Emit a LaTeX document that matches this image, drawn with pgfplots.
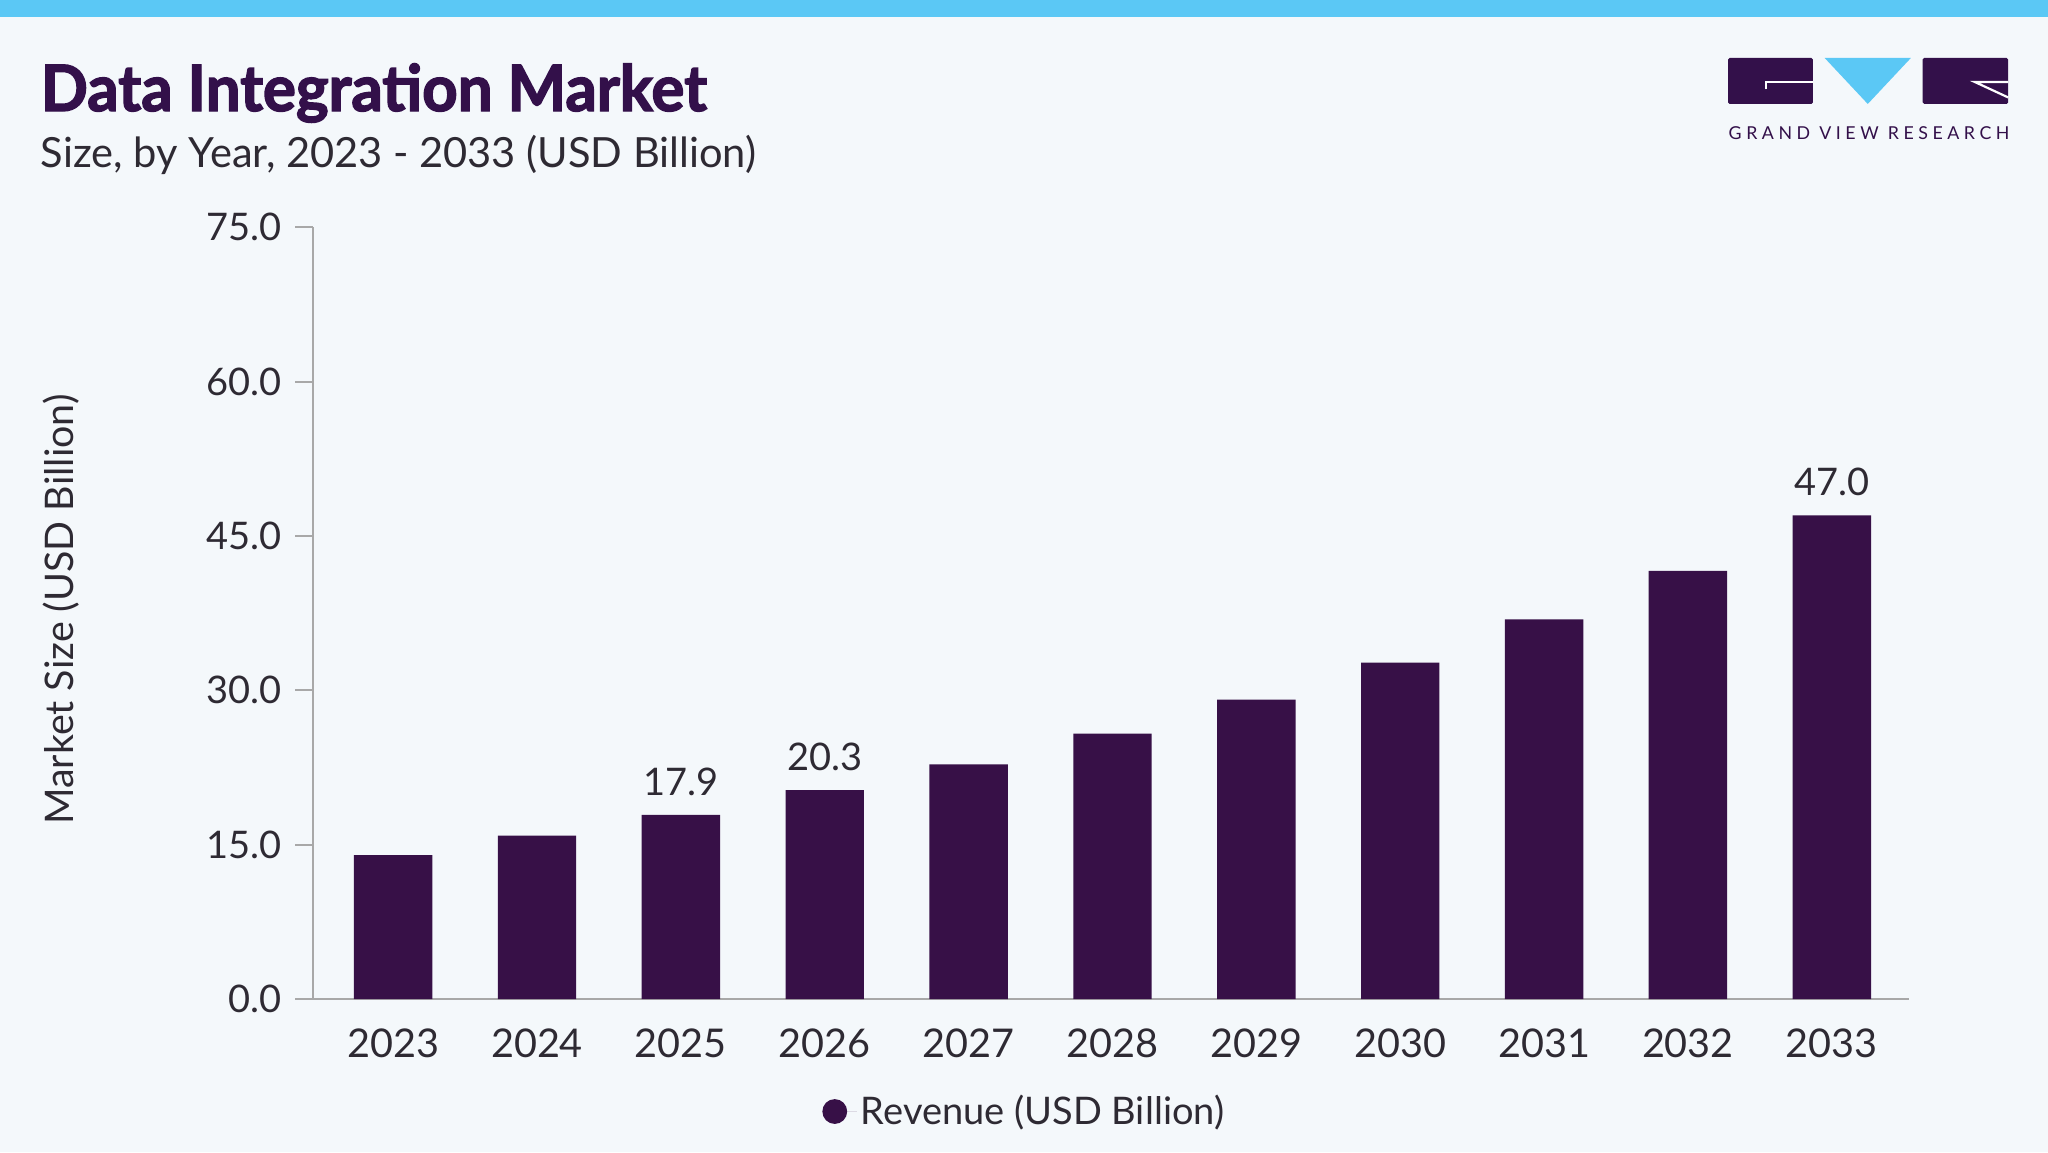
\documentclass[border=0pt]{standalone}
\usepackage{pgfplots}
\pgfplotsset{compat=1.18}
\usepackage{fontspec}
\setmainfont{Lato}
\newfontfamily\titlefont[FakeStretch=0.967,FakeBold=2.2]{Lato}
\newfontfamily\logofont[LetterSpace=25.5]{Lato}
\definecolor{bg}{HTML}{F4F8FB}
\definecolor{band}{HTML}{5BC8F5}
\definecolor{barc}{HTML}{371047}
\definecolor{titlec}{HTML}{33104A}
\definecolor{txt}{HTML}{2E2A33}
\definecolor{axisc}{HTML}{A8A8A8}
\begin{document}
\begin{tikzpicture}[x=0.65306pt,y=0.65306pt]
\fill[bg] (0,0) rectangle (1568,882);
\fill[band] (0,869) rectangle (1568,882);
\node[anchor=base west, inner sep=0, text=titlec, font=\titlefont\bfseries\fontsize{32}{36}\selectfont] at (31,797) {Data Integration Market};
\node[anchor=base west, inner sep=0, text=txt, font=\fontsize{20.8}{25}\selectfont] at (31,754) {Size, by Year, 2023 - 2033 (USD Billion)};
% logo
\fill[titlec, rounded corners=0.8pt] (1323,802.4) rectangle (1388,837.6);
\fill[band] (1397,837.6) -- (1463,837.6) -- (1430,802.4) -- cycle;
\fill[titlec, rounded corners=0.8pt] (1472,802.4) rectangle (1537.5,837.6);
\draw[white, line width=1.1pt] (1352,813.5) -- (1352,819.4) -- (1388,819.4);
\draw[white, line width=1.1pt] (1537.5,819.2) -- (1512,819.2) -- (1537.5,807.4);
\node[anchor=center, inner sep=0, text=titlec, font=\logofont\fontsize{8.9}{10}\selectfont] at (1431,780.2) {GRAND VIEW RESEARCH};
\begin{axis}[
  at={(156.73pt,76.41pt)}, anchor=south west, scale only axis,
  width=798pt, height=386pt,
  xmin=-0.554, xmax=10.54, ymin=0, ymax=75,
  axis x line*=bottom, axis y line*=left,
  axis line style={draw=axisc, line width=1pt},
  ytick={0,15,30,45,60,75},
  yticklabels={0.0,15.0,30.0,45.0,60.0,75.0},
  xtick={0,1,2,3,4,5,6,7,8,9,10},
  xticklabels={2023,2024,2025,2026,2027,2028,2029,2030,2031,2032,2033},
  tick align=outside, major tick length=9.1pt,
  y tick style={draw=axisc, line width=1pt},
  x tick style={draw=none},
  tick label style={font=\fontsize{19}{22}\selectfont, text=txt},
  yticklabel style={xshift=-3.3pt},
  xticklabel style={yshift=-2pt, font=\fontsize{19.8}{22}\selectfont},
  ylabel={Market Size (USD Billion)},
  ylabel style={at={(axis description cs:-0.158,0.5046)}, anchor=center, font=\fontsize{19.7}{22}\selectfont, text=txt},
  legend style={at={(axis description cs:0.4460,-0.1455)}, anchor=center, draw=none, fill=none, font=\fontsize{19}{22}\selectfont, text=txt, legend cell align=left},
  legend image code/.code={\fill[barc] (0,0) circle (6.2pt); \path (-6.2pt,0) -- (11pt,0);},
  clip=false,
]
\addplot[ybar, bar width=39.2pt, bar shift=0pt, fill=barc, draw=none]
  coordinates {(0,14.0) (1,15.9) (2,17.9) (3,20.3) (4,22.8) (5,25.8) (6,29.1) (7,32.7) (8,36.9) (9,41.6) (10,47.0)};
\addlegendentry{Revenue (USD Billion)}
\addplot[ybar, bar width=39.2pt, bar shift=0pt, fill=none, draw=none, forget plot,
  point meta=y,
  nodes near coords={\pgfmathprintnumber[fixed,fixed zerofill,precision=1,assume math mode=true]{\pgfplotspointmeta}},
  nodes near coords style={anchor=south, inner sep=0pt, yshift=9.6pt, font=\fontsize{19}{22}\selectfont, text=txt}]
  coordinates {(2,17.9) (3,20.3) (10,47.0)};
\end{axis}
\end{tikzpicture}
\end{document}
